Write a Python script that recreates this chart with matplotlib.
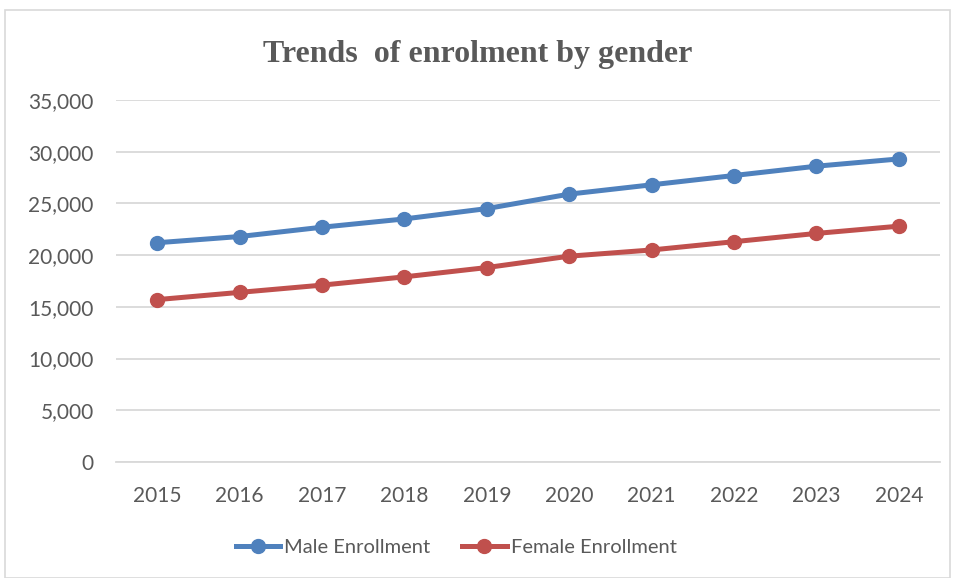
import matplotlib.pyplot as plt
from matplotlib.patches import Rectangle
from matplotlib.ticker import FuncFormatter

# datos
years = ['2015', '2016', '2017', '2018', '2019', '2020', '2021', '2022', '2023', '2024']
male = [21200, 21800, 22700, 23500, 24500, 25900, 26800, 27700, 28600, 29300]
female = [15700, 16400, 17100, 17900, 18800, 19900, 20500, 21300, 22100, 22800]

gray = '#595959'
fig = plt.figure(figsize=(9.56, 5.78), dpi=100)

# marco exterior
fig.patches.append(Rectangle((5/956, 0.0), 945/956, 1 - 10/578, transform=fig.transFigure,
                             fill=False, edgecolor='#d9d9d9', linewidth=1.2))

ax = fig.add_axes([116/956, 1 - 462/578, 824/956, 362/578])
x = range(len(years))
ax.plot(x, male, '-o', color='#4f81bd', linewidth=3.6, markersize=10, label='Male Enrollment')
ax.plot(x, female, '-o', color='#c0504d', linewidth=3.6, markersize=10, label='Female Enrollment')

ax.set_xlim(-0.5, len(years) - 0.5)
ax.set_ylim(0, 35000)
ax.set_yticks(range(0, 35001, 5000))
ax.yaxis.set_major_formatter(FuncFormatter(lambda v, p: f'{int(v):,}'))
ax.set_xticks(list(x))
ax.set_xticklabels(years)
ax.grid(axis='y', color='#d9d9d9', linewidth=1.3)
ax.set_axisbelow(True)
for s in ['top', 'right', 'left']:
    ax.spines[s].set_visible(False)
ax.spines['bottom'].set_color('#d9d9d9')
ax.spines['bottom'].set_linewidth(1.3)
ax.tick_params(length=0, labelsize=15, labelcolor=gray)
ax.tick_params(axis='x', pad=17)
ax.tick_params(axis='y', pad=16)
for lab in ax.get_xticklabels() + ax.get_yticklabels():
    lab.set_family('Lato')

fig.text(0.5, 1 - 62/578, 'Trends  of enrolment by gender', ha='center', va='baseline',
         fontsize=23, fontweight='bold', color=gray, family='Liberation Serif')

leg = fig.legend(loc='center', bbox_to_anchor=(0.477, 1 - 547/578), ncol=2, frameon=False,
                 handlelength=2.2, handletextpad=0.2, columnspacing=1.6,
                 prop={'family': 'Lato', 'size': 14.5})
for t in leg.get_texts():
    t.set_color(gray)

fig.savefig('out.png', dpi=100)
